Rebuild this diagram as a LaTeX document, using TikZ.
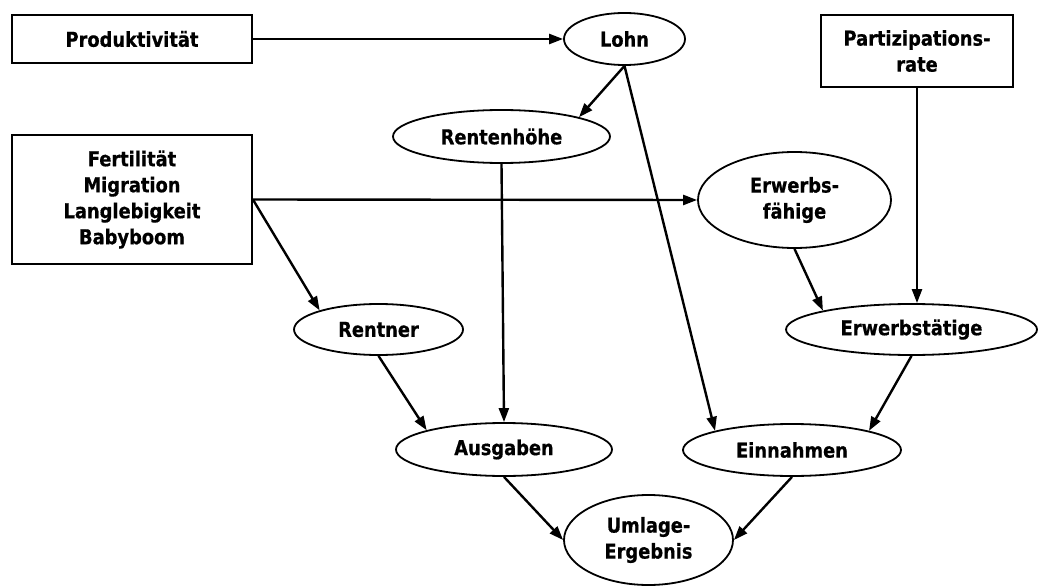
\documentclass[tikz,border=0pt]{standalone}
\usepackage{fontspec}
\setmainfont{DejaVu Sans}[FakeStretch=0.87, BoldFeatures={FakeBold=0.6}]
\usetikzlibrary{arrows.meta,shapes.geometric}
\tikzset{
  lbl/.style={font=\bfseries\fontsize{20.5}{26}\selectfont, align=center, inner sep=0pt},
  box/.style={lbl, draw, rectangle, line width=1.8pt},
  oval/.style={lbl, draw, ellipse, line width=1.8pt},
  arr/.style={line width=2.4pt, -{Triangle[length=14pt,width=10pt]}}
}
\begin{document}
\begin{tikzpicture}[x=1pt, y=-1pt]
\useasboundingbox (0,0) rectangle (1038,588);

% input boxes
\node[box, minimum width=240pt, minimum height=48pt] (prod) at (132,39) {Produktivität};
\node[box, minimum width=192pt, minimum height=72pt] (part) at (917,51) {Partizipations-\\rate};
\node[box, minimum width=240pt, minimum height=129pt] (fert) at (132,199.5) {Fertilität\\Migration\\Langlebigkeit\\Babyboom};

% model quantities
\node[oval, minimum width=121pt, minimum height=52pt] (lohn) at (624.5,39) {Lohn};
\node[oval, minimum width=217pt, minimum height=53pt] (rente) at (501.5,136.5) {Rentenhöhe};
\node[oval, minimum width=193pt, minimum height=96pt] (erwf) at (794.5,200) {Erwerbs-\\fähige};
\node[oval, minimum width=169pt, minimum height=51pt] (rentner) at (378.5,329.5) {Rentner};
\node[oval, minimum width=251pt, minimum height=51pt] (erwt) at (911.5,329.5) {Erwerbstätige};
\node[oval, minimum width=216pt, minimum height=53pt] (ausg) at (504,449.5) {Ausgaben};
\node[oval, minimum width=218pt, minimum height=52pt] (einn) at (792,450) {Einnahmen};
\node[oval, minimum width=169pt, minimum height=90pt] (umlage) at (648.5,540) {Umlage-\\Ergebnis};

% influences
\draw[arr] (prod.east) -- (lohn.west);
\draw[arr] (lohn.south) -- (rente.14);
\draw[arr] (lohn.south) -- (einn.166);
\draw[arr] (part.south) -- (part.south |- erwt.north);
\draw[arr] (fert.east) -- (erwf.west);
\draw[arr] (fert.east) -- (rentner.162);
\draw[arr] (rente.south) -- (ausg.north);
\draw[arr] (erwf.south) -- (erwt.168);
\draw[arr] (rentner.south) -- (ausg.166);
\draw[arr] (erwt.south) -- (einn.14);
\draw[arr] (ausg.south) -- (umlage.west);
\draw[arr] (einn.south) -- (umlage.east);
\end{tikzpicture}
\end{document}
